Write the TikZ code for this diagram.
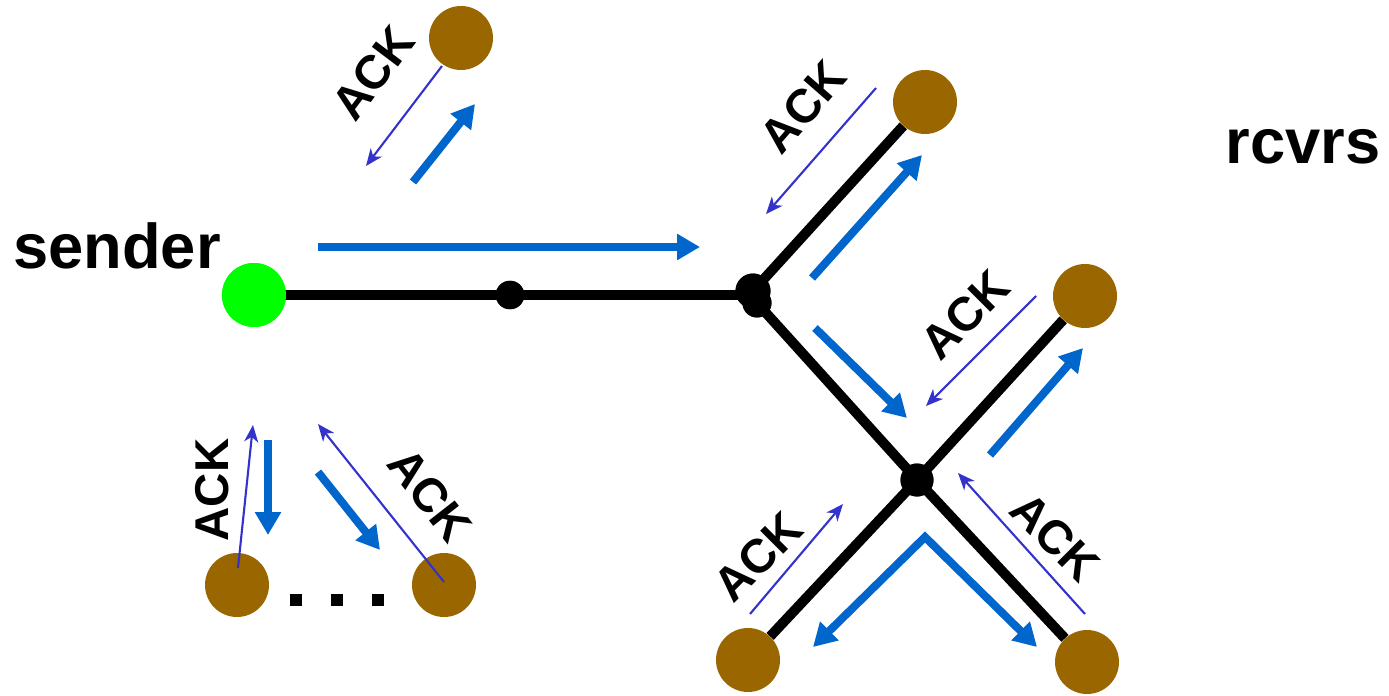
\documentclass[tikz,border=0pt]{standalone}
\usepackage{fontspec}
\setmainfont{Liberation Sans}
\usetikzlibrary{arrows.meta}
\definecolor{brn}{RGB}{153,102,0}
\definecolor{grn}{RGB}{0,255,0}
\definecolor{blu}{RGB}{0,102,204}
\definecolor{pur}{RGB}{51,51,204}
\tikzset{
  rcv/.style={circle,fill=brn,minimum size=1.28cm,inner sep=0pt},
  snd/.style={circle,fill=grn,minimum size=1.28cm,inner sep=0pt},
  rtr/.style={circle,fill=black,inner sep=0pt},
  link/.style={line width=0.2cm,black},
  data/.style={line width=0.16cm,blu,-{Triangle[length=0.46cm,width=0.5cm]}},
  ack/.style={line width=1.2pt,pur,-{Stealth[length=0.34cm,width=0.28cm,inset=0.1cm]}},
  acklbl/.style={font=\fontsize{27}{30}\selectfont\bfseries,inner sep=0pt},
  bigtxt/.style={font=\fontsize{36}{40}\selectfont\bfseries,inner sep=0pt},
  dotsq/.style={fill=black,minimum size=0.23cm,inner sep=0pt}
}
\begin{document}
\begin{tikzpicture}[x=0.02cm,y=-0.02cm]
\useasboundingbox (0,0) rectangle (1389,696);
% nodes
\node[snd] (s) at (254,295) {};
\node[rtr,minimum size=0.57cm] (r0) at (510,295) {};
\node[rtr,minimum size=0.7cm] (r1) at (753,291) {};
\node[rtr,minimum size=0.58cm] (r1b) at (757,303) {};
\node[rtr,minimum size=0.66cm] (r2) at (917,480) {};
\node[rcv] (t0) at (461,38) {};
\node[rcv] (t1) at (925,102) {};
\node[rcv] (t2) at (1085,296) {};
\node[rcv] (t3) at (748,660) {};
\node[rcv] (t4) at (1087,662) {};
\node[rcv] (b1) at (237,585) {};
\node[rcv] (b2) at (444,585) {};
% links
\draw[link] (s.center) -- (s.center -| r1.center);
\draw[link] (r1.center) -- (t1);
\draw[link] (r1b.center) -- (r2.center);
\draw[link] (r2.center) -- (t2);
\draw[link] (r2.center) -- (t3);
\draw[link] (r2.center) -- (t4);
% redraw dots on top
\fill[grn] (s) circle (0.64cm);
\fill (r0) circle (0.285cm);
\fill (r1) circle (0.35cm);
\fill (r1b) circle (0.29cm);
\fill (r2) circle (0.33cm);
% labels
\node[bigtxt] (lsnd) at (117,246) {sender};
\node[bigtxt] (lrcv) at (1303,147) {rcvrs};
% ellipsis
\node[dotsq] (d1) at (296,600) {};
\node[dotsq] (d2) at (337,600) {};
\node[dotsq] (d3) at (378,600) {};
% data arrows
\coordinate (a1) at (318,247); \coordinate (a2) at (700,247);
\draw[data] (a1) -- (a2);
\coordinate (a3) at (413,182); \coordinate (a4) at (475,104);
\draw[data] (a3) -- (a4);
\coordinate (a5) at (812,278); \coordinate (a6) at (922,155);
\draw[data] (a5) -- (a6);
\coordinate (a7) at (815,328); \coordinate (a8) at (907,418);
\draw[data] (a7) -- (a8);
\coordinate (a9) at (990,455); \coordinate (a10) at (1083,348);
\draw[data] (a9) -- (a10);
\coordinate (v1) at (813,647); \coordinate (v0) at (925,537); \coordinate (v2) at (1037,647);
\draw[data,{Triangle[length=0.46cm,width=0.5cm]}-{Triangle[length=0.46cm,width=0.5cm]}] (v1) -- (v0) -- (v2);
\coordinate (a11) at (268,440); \coordinate (a12) at (268,535);
\draw[data] (a11) -- (a12);
\coordinate (a13) at (318,472); \coordinate (a14) at (380,550);
\draw[data] (a13) -- (a14);
% ack arrows
\coordinate (k1) at (442,66); \coordinate (k2) at (366,166);
\draw[ack] (k1) -- (k2);
\coordinate (k3) at (876,88); \coordinate (k4) at (766,214);
\draw[ack] (k3) -- (k4);
\coordinate (k5) at (1036,296); \coordinate (k6) at (926,406);
\draw[ack] (k5) -- (k6);
\coordinate (k7) at (1085,614); \coordinate (k8) at (958,473);
\draw[ack] (k7) -- (k8);
\coordinate (k9) at (750,614); \coordinate (k10) at (843,504);
\draw[ack] (k9) -- (k10);
\coordinate (k11) at (238,568); \coordinate (k12) at (253,425);
\draw[ack] (k11) -- (k12);
\coordinate (k13) at (444,582); \coordinate (k14) at (318,424);
\draw[ack] (k13) -- (k14);
% ack labels
\node[acklbl,rotate=53] (l1) at (373,73) {ACK};
\node[acklbl,rotate=49] (l2) at (803,107) {ACK};
\node[acklbl,rotate=45] (l3) at (965,315) {ACK};
\node[acklbl,rotate=-45] (l4) at (1055,537) {ACK};
\node[acklbl,rotate=45] (l5) at (758,557) {ACK};
\node[acklbl,rotate=90] (l6) at (212,490) {ACK};
\node[acklbl,rotate=-52] (l7) at (430,495) {ACK};
\end{tikzpicture}
\end{document}
